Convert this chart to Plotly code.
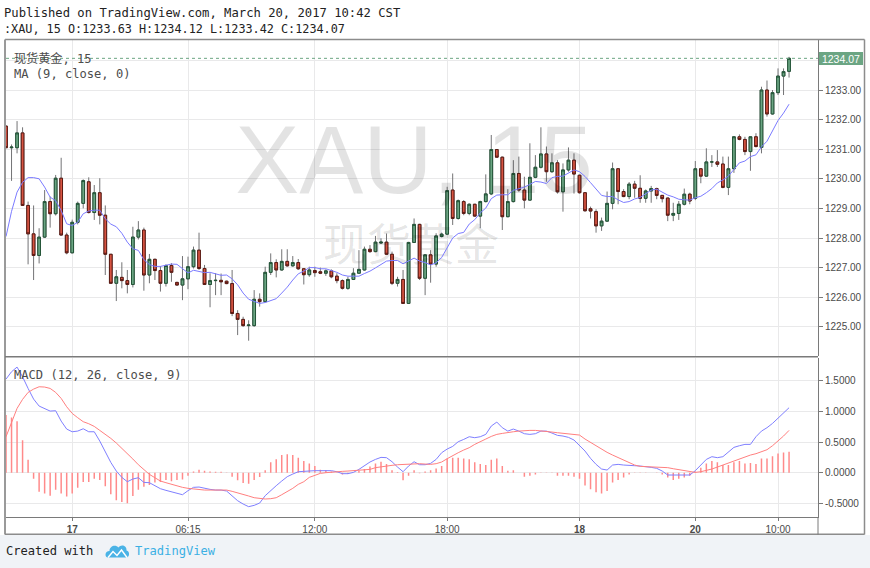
import plotly.graph_objects as go

# ---------------- data ----------------
opens = [1231.78, 1231.05, 1231.05, 1231.55, 1229.10, 1228.14, 1227.41, 1228.03, 1229.23, 1228.82,
         1230.02, 1228.10, 1227.50, 1228.53, 1229.17, 1229.90, 1228.86, 1229.53, 1228.77, 1227.45,
         1226.47, 1226.67, 1226.56, 1226.43, 1228.03, 1228.27, 1226.75, 1227.28, 1226.90, 1226.47,
         1227.07, 1226.50, 1226.41, 1226.62, 1227.03, 1227.59, 1226.97, 1226.43, 1226.56, 1226.57,
         1226.54, 1226.46, 1225.45, 1225.25, 1225.04, 1225.04, 1225.93, 1225.85, 1226.84, 1227.17,
         1226.92, 1227.21, 1227.06, 1227.17, 1226.96, 1226.76, 1226.90, 1226.86, 1226.81, 1226.89,
         1226.71, 1226.56, 1226.30, 1226.60, 1226.81, 1226.92, 1227.62, 1227.54, 1227.83, 1227.86,
         1227.45, 1226.47, 1226.60, 1225.79, 1227.85, 1228.46, 1226.64, 1227.43, 1227.12, 1228.05,
         1228.13, 1229.62, 1228.66, 1229.23, 1228.83, 1229.14, 1228.74, 1229.23, 1229.49, 1230.99,
         1230.73, 1228.72, 1229.23, 1230.18, 1229.62, 1229.28, 1230.05, 1230.39, 1230.84, 1230.24,
         1230.54, 1229.56, 1230.30, 1230.63, 1230.12, 1229.53, 1228.99, 1228.89, 1228.41, 1228.57,
         1229.17, 1230.34, 1229.57, 1229.40, 1229.82, 1229.68, 1229.34, 1229.59, 1229.67, 1229.44,
         1229.35, 1228.77, 1228.83, 1229.14, 1229.48, 1229.34, 1230.34, 1230.09, 1230.57, 1230.57,
         1230.50, 1229.71, 1230.34, 1231.42, 1231.33, 1230.92, 1231.42, 1231.06, 1233.00, 1232.19,
         1232.91, 1233.47, 1233.63]
highs = [1231.80, 1231.16, 1231.95, 1231.74, 1229.23, 1229.10, 1228.33, 1229.62, 1229.40, 1230.13,
         1230.71, 1228.18, 1228.62, 1229.23, 1229.98, 1230.05, 1229.79, 1230.02, 1229.10, 1227.45,
         1226.92, 1227.18, 1226.92, 1228.38, 1228.57, 1228.35, 1227.46, 1227.30, 1227.05, 1227.11,
         1227.15, 1226.52, 1227.39, 1227.37, 1227.71, 1228.18, 1227.09, 1226.81, 1226.81, 1226.80,
         1226.56, 1226.92, 1225.56, 1225.34, 1225.22, 1226.24, 1226.13, 1227.03, 1227.48, 1227.28,
         1227.62, 1227.62, 1227.39, 1227.29, 1226.98, 1227.03, 1227.03, 1227.00, 1226.94, 1226.94,
         1226.81, 1226.60, 1226.69, 1226.98, 1227.59, 1227.71, 1227.76, 1228.07, 1227.99, 1228.15,
         1227.54, 1226.69, 1226.92, 1227.87, 1228.66, 1228.48, 1227.45, 1227.59, 1228.16, 1228.18,
         1229.73, 1230.18, 1229.30, 1229.28, 1229.17, 1229.15, 1229.26, 1230.15, 1231.48, 1231.00,
         1230.75, 1229.65, 1230.63, 1230.75, 1230.07, 1231.20, 1230.80, 1231.74, 1231.09, 1230.86,
         1230.63, 1230.52, 1231.06, 1230.86, 1230.14, 1229.55, 1229.06, 1228.97, 1228.69, 1229.57,
         1230.55, 1230.36, 1229.65, 1229.89, 1229.93, 1230.12, 1229.64, 1229.76, 1229.70, 1229.45,
         1229.36, 1229.19, 1229.25, 1229.67, 1229.53, 1230.60, 1230.36, 1231.03, 1230.80, 1230.97,
         1230.75, 1230.75, 1231.43, 1231.50, 1231.42, 1231.43, 1231.54, 1233.11, 1233.32, 1233.00,
         1233.73, 1233.73, 1234.12]
lows = [1231.05, 1229.93, 1230.86, 1229.08, 1227.11, 1226.58, 1227.14, 1228.00, 1228.35, 1228.76,
        1228.08, 1227.45, 1227.48, 1228.46, 1229.00, 1228.83, 1228.61, 1228.46, 1226.75, 1226.45,
        1225.87, 1226.30, 1226.13, 1226.33, 1227.95, 1226.22, 1226.47, 1226.58, 1226.19, 1226.36,
        1226.52, 1226.40, 1225.90, 1226.27, 1226.97, 1226.92, 1226.41, 1225.66, 1226.07, 1226.07,
        1226.44, 1225.36, 1224.72, 1225.00, 1224.53, 1225.00, 1225.68, 1225.83, 1226.75, 1226.67,
        1226.90, 1227.03, 1227.03, 1226.92, 1226.43, 1226.69, 1226.69, 1226.78, 1226.72, 1226.64,
        1226.47, 1226.26, 1226.25, 1226.58, 1226.81, 1226.90, 1227.50, 1227.52, 1227.80, 1227.43,
        1226.41, 1226.36, 1225.79, 1225.79, 1227.83, 1226.58, 1226.07, 1226.49, 1227.03, 1228.02,
        1228.10, 1228.44, 1228.62, 1228.77, 1228.77, 1228.72, 1228.33, 1229.20, 1229.45, 1230.72,
        1228.27, 1228.70, 1229.20, 1229.56, 1229.00, 1229.26, 1230.02, 1230.35, 1229.90, 1230.20,
        1229.50, 1228.89, 1230.24, 1229.50, 1229.50, 1228.89, 1228.66, 1228.18, 1228.24, 1228.55,
        1228.97, 1229.14, 1229.38, 1229.31, 1229.36, 1229.19, 1229.19, 1229.19, 1229.31, 1229.20,
        1228.57, 1228.57, 1228.61, 1229.10, 1229.14, 1229.28, 1229.85, 1230.07, 1230.40, 1230.40,
        1229.68, 1229.45, 1230.20, 1231.30, 1230.80, 1230.27, 1231.06, 1230.86, 1232.10, 1232.17,
        1232.83, 1232.83, 1233.42]
closes = [1231.05, 1231.07, 1231.55, 1229.10, 1228.14, 1227.41, 1228.03, 1229.23, 1228.82, 1230.02,
          1228.10, 1227.50, 1228.53, 1229.17, 1229.94, 1228.86, 1229.53, 1228.77, 1227.45, 1226.47,
          1226.69, 1226.56, 1226.43, 1228.03, 1228.27, 1226.75, 1227.28, 1226.90, 1226.47, 1227.07,
          1226.84, 1226.41, 1226.62, 1227.03, 1227.59, 1226.97, 1226.43, 1226.56, 1226.57, 1226.52,
          1226.46, 1225.45, 1225.25, 1225.04, 1225.06, 1225.93, 1225.85, 1226.84, 1227.17, 1226.92,
          1227.21, 1227.06, 1227.17, 1226.96, 1226.76, 1226.92, 1226.83, 1226.81, 1226.89, 1226.69,
          1226.56, 1226.30, 1226.60, 1226.81, 1226.94, 1227.62, 1227.54, 1227.86, 1227.86, 1227.45,
          1226.47, 1226.60, 1225.79, 1227.85, 1228.46, 1226.64, 1227.43, 1227.12, 1228.07, 1228.13,
          1229.60, 1228.66, 1229.26, 1228.83, 1229.14, 1228.74, 1229.23, 1229.49, 1230.99, 1230.73,
          1228.72, 1229.23, 1230.18, 1229.62, 1229.28, 1230.05, 1230.39, 1230.84, 1230.24, 1230.54,
          1229.56, 1230.30, 1230.63, 1230.16, 1229.53, 1228.92, 1228.91, 1228.41, 1228.57, 1229.17,
          1230.34, 1229.57, 1229.40, 1229.82, 1229.68, 1229.34, 1229.59, 1229.67, 1229.44, 1229.33,
          1228.77, 1228.83, 1229.14, 1229.48, 1229.25, 1230.34, 1230.09, 1230.57, 1230.57, 1230.49,
          1229.71, 1230.34, 1231.42, 1231.33, 1230.92, 1231.42, 1231.09, 1233.00, 1232.19, 1232.91,
          1233.47, 1233.62, 1234.07]
ma9 = [1228.05, 1228.90, 1229.55, 1229.88, 1230.04, 1230.04, 1230.00, 1229.72, 1229.38, 1229.26,
       1228.93, 1228.48, 1228.42, 1228.53, 1228.82, 1228.91, 1228.94, 1228.94, 1228.65, 1228.47,
       1228.38, 1228.16, 1227.86, 1227.64, 1227.58, 1227.27, 1227.10, 1227.04, 1227.04, 1227.08,
       1227.12, 1227.11, 1226.96, 1226.82, 1226.91, 1226.88, 1226.83, 1226.84, 1226.78, 1226.74,
       1226.75, 1226.62, 1226.42, 1226.14, 1225.93, 1225.87, 1225.79, 1225.82, 1225.89, 1225.95,
       1226.14, 1226.34, 1226.58, 1226.79, 1226.88, 1227.00, 1227.00, 1226.96, 1226.96, 1226.90,
       1226.84, 1226.75, 1226.71, 1226.71, 1226.71, 1226.80, 1226.88, 1226.99, 1227.12, 1227.22,
       1227.24, 1227.24, 1227.13, 1227.23, 1227.32, 1227.22, 1227.17, 1227.09, 1227.16, 1227.34,
       1227.68, 1228.00, 1228.15, 1228.19, 1228.47, 1228.62, 1228.85, 1229.01, 1229.33, 1229.45,
       1229.46, 1229.46, 1229.61, 1229.66, 1229.72, 1229.81, 1229.91, 1229.89, 1229.84, 1230.04,
       1230.08, 1230.09, 1230.20, 1230.30, 1230.24, 1230.08, 1229.87, 1229.66, 1229.44, 1229.40,
       1229.40, 1229.29, 1229.20, 1229.23, 1229.32, 1229.37, 1229.50, 1229.62, 1229.65, 1229.54,
       1229.45, 1229.39, 1229.31, 1229.29, 1229.28, 1229.36, 1229.41, 1229.53, 1229.67, 1229.86,
       1229.96, 1230.09, 1230.31, 1230.54, 1230.60, 1230.75, 1230.81, 1231.08, 1231.27, 1231.62,
       1231.97, 1232.22, 1232.52]
macd_line = [1.527, 1.647, 1.723, 1.565, 1.375, 1.201, 1.087, 1.049, 1.005, 1.011,
             0.842, 0.712, 0.668, 0.679, 0.717, 0.668, 0.668, 0.516, 0.342, 0.168,
             0.027, -0.076, -0.147, -0.103, -0.082, -0.158, -0.163, -0.212, -0.261, -0.288,
             -0.310, -0.332, -0.359, -0.293, -0.239, -0.234, -0.255, -0.272, -0.283, -0.283,
             -0.299, -0.386, -0.457, -0.511, -0.554, -0.533, -0.495, -0.375, -0.288, -0.212,
             -0.136, -0.065, -0.022, 0.016, 0.022, 0.033, 0.033, 0.033, 0.033, 0.033,
             0.016, -0.016, -0.016, 0.005, 0.054, 0.120, 0.174, 0.217, 0.250, 0.245,
             0.179, 0.092, 0.016, 0.109, 0.179, 0.130, 0.130, 0.152, 0.217, 0.326,
             0.386, 0.429, 0.505, 0.543, 0.587, 0.571, 0.587, 0.625, 0.761, 0.826,
             0.734, 0.679, 0.712, 0.679, 0.636, 0.625, 0.636, 0.679, 0.679, 0.647,
             0.609, 0.598, 0.576, 0.533, 0.451, 0.353, 0.234, 0.136, 0.060, 0.043,
             0.125, 0.136, 0.125, 0.114, 0.114, 0.109, 0.092, 0.087, 0.071, 0.027,
             -0.038, -0.038, -0.038, -0.038, -0.038, 0.033, 0.125, 0.217, 0.261, 0.245,
             0.261, 0.342, 0.413, 0.440, 0.462, 0.462, 0.587, 0.679, 0.734, 0.804,
             0.886, 0.978, 1.060]
signal_line = [0.587, 0.832, 1.049, 1.196, 1.310, 1.364, 1.402, 1.397, 1.375, 1.310,
               1.212, 1.076, 0.967, 0.897, 0.832, 0.799, 0.755, 0.690, 0.630, 0.560,
               0.484, 0.402, 0.310, 0.223, 0.130, 0.049, -0.027, -0.082, -0.136, -0.163,
               -0.190, -0.212, -0.239, -0.255, -0.266, -0.283, -0.283, -0.283, -0.283, -0.283,
               -0.283, -0.304, -0.326, -0.353, -0.380, -0.408, -0.418, -0.429, -0.424, -0.408,
               -0.359, -0.310, -0.255, -0.190, -0.147, -0.076, -0.043, -0.011, 0.000, 0.011,
               0.016, 0.022, 0.027, 0.033, 0.038, 0.043, 0.054, 0.082, 0.098, 0.103,
               0.120, 0.130, 0.136, 0.147, 0.152, 0.147, 0.141, 0.136, 0.147, 0.174,
               0.228, 0.283, 0.326, 0.370, 0.408, 0.462, 0.500, 0.549, 0.592, 0.625,
               0.641, 0.658, 0.668, 0.679, 0.690, 0.690, 0.690, 0.685, 0.674, 0.663,
               0.652, 0.641, 0.636, 0.625, 0.614, 0.549, 0.495, 0.435, 0.386, 0.332,
               0.288, 0.250, 0.207, 0.163, 0.125, 0.103, 0.098, 0.098, 0.098, 0.092,
               0.082, 0.065, 0.049, 0.033, 0.016, 0.005, 0.016, 0.033, 0.060, 0.092,
               0.125, 0.163, 0.201, 0.234, 0.266, 0.288, 0.310, 0.337, 0.375, 0.440,
               0.516, 0.598, 0.690]
macd_hist = [0.94, 0.90, 0.84, 0.53, 0.21, -0.10, -0.31, -0.34, -0.375, -0.28,
             -0.34, -0.39, -0.34, -0.245, -0.15, -0.15, -0.10, -0.12, -0.22, -0.35,
             -0.45, -0.48, -0.50, -0.38, -0.28, -0.23, -0.20, -0.16, -0.15, -0.12,
             -0.14, -0.12, -0.11, -0.05, 0.02, 0.05, 0.03, 0.02, 0.015, 0.015,
             0.005, -0.065, -0.125, -0.17, -0.18, -0.12, -0.07, 0.04, 0.17, 0.22,
             0.29, 0.30, 0.29, 0.245, 0.19, 0.15, 0.11, 0.05, 0.04, 0.02,
             0.005, -0.03, -0.02, 0.005, 0.03, 0.06, 0.10, 0.15, 0.18, 0.14,
             0.04, 0.01, -0.125, -0.05, 0.04, -0.01, 0.02, 0.04, 0.07, 0.11,
             0.23, 0.245, 0.245, 0.23, 0.22, 0.17, 0.14, 0.125, 0.21, 0.23,
             0.11, 0.03, 0.04, 0.0, -0.065, -0.05, -0.03, 0.005, 0.005, 0.005,
             -0.05, -0.05, -0.05, -0.065, -0.10, -0.21, -0.27, -0.32, -0.34, -0.30,
             -0.16, -0.12, -0.08, -0.03, 0.005, 0.005, 0.005, 0.0, -0.005, -0.03,
             -0.08, -0.12, -0.10, -0.08, -0.05, 0.02, 0.08, 0.15, 0.19, 0.17,
             0.125, 0.125, 0.17, 0.19, 0.15, 0.16, 0.14, 0.23, 0.23, 0.27,
             0.315, 0.33, 0.34]

tick_index = [12, 33, 56, 80, 104, 125, 140]
tick_labels = ["17", "06:15", "12:00", "18:00", "18", "20", "10:00"]
day_labels = ["17", "18", "20"]
price_ticks = [1225, 1226, 1227, 1228, 1229, 1230, 1231, 1232, 1233, 1234]
macd_ticks = [-0.5, 0.0, 0.5, 1.0, 1.5]

# ---------------- geometry helpers ----------------
W, H = 870, 568
PL, PR, PT, PB = 6, 818, 40, 517          # plot area in pixels
BAR0_PX, BAR_STEP = 6.03, 5.514           # pixel centre of bar 0, pixel per bar
P_REF, P_REF_Y, P_PPU = 1233.0, 90.0, 29.6  # price scale

def px_x(px):
    return (px - PL) / (PR - PL)

def px_y(py):
    return (PB - py) / (PB - PT)

def idx_at(px):
    return (px - BAR0_PX) / BAR_STEP

def price_at(py):
    return P_REF - (py - P_REF_Y) / P_PPU

def pt(px, py):
    return f"{px_x(px):.5f},{px_y(py):.5f}"

x = list(range(len(closes)))
body_hi = [max(o, c) for o, c in zip(opens, closes)]
body_lo = [min(o, c) for o, c in zip(opens, closes)]

UP_FILL, UP_LINE = "#6ba583", "#225437"
DN_FILL, DN_LINE = "#d75442", "#5b1a13"
WICK = "#737375"
GRID = "#e9e9ea"
AXC = "#7a7a7a"
MONO = "DejaVu Sans Mono, Noto Sans CJK SC"
SANS = "Liberation Sans, Arial"

fig = go.Figure()

# watermark (behind the candles)
fig.add_trace(go.Scatter(
    x=[idx_at(414), idx_at(411)], y=[price_at(168.5), price_at(250)],
    mode="text", text=["XAU, 15", "现货黄金"],
    textfont=dict(size=[96, 44], color="rgba(0,0,0,0.11)",
                  family=["Liberation Sans, Arial", "Noto Sans CJK SC"]),
    hoverinfo="skip", showlegend=False, xaxis="x", yaxis="y"))

# wicks
fig.add_trace(go.Candlestick(
    x=x, open=opens, high=highs, low=lows, close=closes,
    increasing=dict(line=dict(color=WICK, width=1), fillcolor=WICK),
    decreasing=dict(line=dict(color=WICK, width=1), fillcolor=WICK),
    whiskerwidth=0, hoverinfo="skip", showlegend=False, xaxis="x", yaxis="y"))
# bodies
fig.add_trace(go.Candlestick(
    x=x, open=opens, high=body_hi, low=body_lo, close=closes,
    increasing=dict(line=dict(color=UP_LINE, width=1), fillcolor=UP_FILL),
    decreasing=dict(line=dict(color=DN_LINE, width=1), fillcolor=DN_FILL),
    whiskerwidth=0, hoverinfo="skip", showlegend=False, xaxis="x", yaxis="y"))
# MA 9
fig.add_trace(go.Scatter(x=x, y=ma9, mode="lines", line=dict(color="#7b7bff", width=1),
                         hoverinfo="skip", showlegend=False, xaxis="x", yaxis="y"))

# MACD pane
fig.add_trace(go.Bar(x=x, y=macd_hist, width=0.27, marker=dict(color="#ff8a8a", line=dict(width=0)),
                     hoverinfo="skip", showlegend=False, xaxis="x", yaxis="y2"))
fig.add_trace(go.Scatter(x=x, y=macd_line, mode="lines", line=dict(color="#7f7fff", width=1),
                         hoverinfo="skip", showlegend=False, xaxis="x", yaxis="y2"))
fig.add_trace(go.Scatter(x=x, y=signal_line, mode="lines", line=dict(color="#ff7f7f", width=1),
                         hoverinfo="skip", showlegend=False, xaxis="x", yaxis="y2"))

price_top = price_at(PT)
price_bot = price_at(356)
M_ZERO_Y, M_PPU = 472.7, 61.3
macd_top = (M_ZERO_Y - 357.5) / M_PPU
macd_bot = (M_ZERO_Y - PB) / M_PPU

xt_text = [f"<b>{t}</b>" if t in day_labels else t for t in tick_labels]
pt_text = [f"{v:.2f}" if v < 1234 else "" for v in price_ticks]
mt_text = [f"{v:.4f}" for v in macd_ticks]

tickfont = dict(family=SANS, size=10, color="#4a4a4a")
fig.update_layout(
    width=W, height=H,
    margin=dict(l=PL, r=W - PR, t=PT, b=H - PB, pad=0),
    paper_bgcolor="white", plot_bgcolor="white",
    showlegend=False, hovermode=False, dragmode=False,
    boxgap=0.3,
    xaxis=dict(range=[-0.005, 147.25], tickmode="array", tickvals=tick_index, ticktext=xt_text,
               ticks="outside", ticklen=3, tickcolor=AXC, showgrid=True, gridcolor=GRID,
               zeroline=False, showline=True, linecolor=AXC, linewidth=1, anchor="y2",
               rangeslider=dict(visible=False), tickfont=tickfont, fixedrange=True),
    yaxis=dict(domain=[px_y(356), 1], range=[price_bot, price_top], side="right", anchor="x",
               tickmode="array", tickvals=price_ticks, ticktext=pt_text,
               ticks="outside", ticklen=4, tickcolor=AXC, showgrid=True, gridcolor=GRID,
               zeroline=False, showline=True, linecolor=AXC, linewidth=1,
               tickfont=tickfont, fixedrange=True),
    yaxis2=dict(domain=[0, px_y(357.5)], range=[macd_bot, macd_top], side="right", anchor="x",
                tickmode="array", tickvals=macd_ticks, ticktext=mt_text,
                ticks="outside", ticklen=4, tickcolor=AXC, showgrid=True, gridcolor=GRID,
                zeroline=False, showline=True, linecolor=AXC, linewidth=1,
                tickfont=tickfont, fixedrange=True),
)

FRAME = "#8c8c8c"
shapes = [
    # footer background
    dict(type="rect", xref="paper", yref="paper", x0=px_x(-2), x1=px_x(W + 2), y0=px_y(535), y1=px_y(H + 2),
         fillcolor="#f0f3f7", line=dict(width=0), layer="below"),
    # outer frame
    dict(type="line", xref="paper", yref="paper", x0=px_x(5), x1=px_x(864.5), y0=px_y(39.5), y1=px_y(39.5),
         line=dict(color=FRAME, width=1.5)),
    dict(type="line", xref="paper", yref="paper", x0=px_x(5), x1=px_x(5), y0=px_y(39.5), y1=px_y(534.5),
         line=dict(color="#9a9a9a", width=2)),
    dict(type="line", xref="paper", yref="paper", x0=px_x(864.5), x1=px_x(864.5), y0=px_y(39.5), y1=px_y(534.5),
         line=dict(color=FRAME, width=1.5)),
    dict(type="line", xref="paper", yref="paper", x0=px_x(5), x1=px_x(864.5), y0=px_y(534.3), y1=px_y(534.3),
         line=dict(color=FRAME, width=1.5)),
    # price-scale divider through the time axis strip
    dict(type="line", xref="paper", yref="paper", x0=px_x(PR), x1=px_x(PR), y0=px_y(PB), y1=px_y(534.5),
         line=dict(color=AXC, width=1)),
    # pane separator
    dict(type="line", xref="paper", yref="paper", x0=px_x(5), x1=px_x(PR), y0=px_y(356.7), y1=px_y(356.7),
         line=dict(color=AXC, width=1.5)),
    # last price dotted line
    dict(type="line", xref="paper", yref="y", x0=0, x1=1, y0=closes[-1], y1=closes[-1],
         line=dict(color=UP_FILL, width=1, dash="dot")),
    # TradingView logo (cloud + zigzag)
    dict(type="path", xref="paper", yref="paper",
         path=(f"M {pt(108, 557.5)} C {pt(104.5, 557.5)} {pt(104.5, 551)} {pt(109.5, 551)} "
               f"C {pt(109.5, 546)} {pt(115.5, 544)} {pt(118.5, 547.5)} "
               f"C {pt(120.5, 544)} {pt(127, 545)} {pt(126.5, 550.5)} "
               f"C {pt(130, 551)} {pt(130, 557.5)} {pt(126, 557.5)} Z"),
         fillcolor="#4ab3e6", line=dict(width=0)),
    dict(type="path", xref="paper", yref="paper",
         path=f"M {pt(108, 557.5)} L {pt(113, 551.5)} L {pt(117, 555.5)} L {pt(121.5, 550)} L {pt(127, 557.5)}",
         line=dict(color="white", width=1.4)),
]
fig.update_layout(shapes=shapes)

def note(px, py, text, size=12.1, color="#4c4c4c", family=MONO, **kw):
    d = dict(xref="paper", yref="paper", x=px_x(px), y=px_y(py), text=text, showarrow=False,
             xanchor="left", yanchor="middle", borderpad=0, borderwidth=0,
             font=dict(family=family, size=size, color=color))
    d.update(kw)
    return d

last = len(closes) - 1
annotations = [
    note(4, 12.5, "Published on TradingView.com, March 20, 2017 10:42 CST", size=12.2, color="#222"),
    note(4, 29.5, f":XAU, 15 O:{opens[last]:.2f} H:{highs[last]:.2f} L:{lows[last]:.2f} C:{closes[last]:.2f}",
         size=11.8, color="#222"),
    note(13.5, 58, "现货黄金, 15", size=12.1),
    note(13.5, 74, "MA (9, close, 0)", size=12.1),
    note(13.5, 375, "MACD (12, 26, close, 9)", size=12.1),
    note(5.5, 551, "Created with", size=12.1, color="#222"),
    note(134.5, 551, "TradingView", size=12.1, color="#3bb0e4"),
    dict(xref="paper", yref="y", x=px_x(PR + 0.5), y=closes[-1], text=f"{closes[-1]:.2f}",
         showarrow=False, xanchor="left", yanchor="middle", bgcolor=UP_FILL, width=44, height=13,
         borderpad=0, borderwidth=0, align="center",
         font=dict(family=SANS, size=10.5, color="white")),
]
fig.update_layout(annotations=annotations)

fig.write_html("out.html", config={"displayModeBar": False, "staticPlot": True},
               post_script="document.body.style.margin='0px';document.body.style.overflow='hidden';")
